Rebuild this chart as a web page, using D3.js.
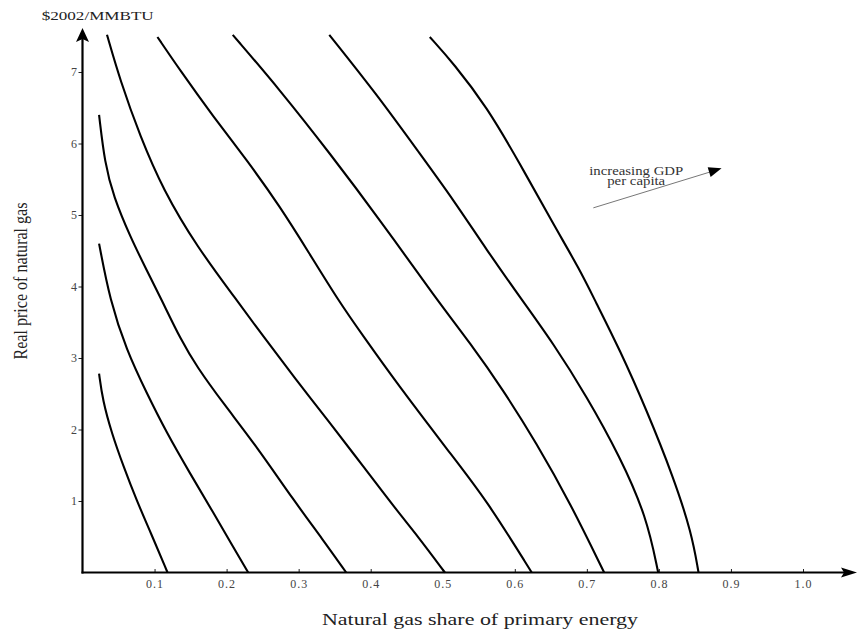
<!DOCTYPE html>
<html>
<head>
<meta charset="utf-8">
<script src="https://cdn.jsdelivr.net/npm/d3@7"></script>
<style>
  html, body { margin: 0; padding: 0; background: #fff; }
  svg { display: block; }
  text { font-family: "Liberation Serif", "Times New Roman", serif; }
</style>
</head>
<body>
<svg id="chart" width="857" height="629"></svg>
<script>
// ---- Data (share of primary energy, real price $2002/MMBTU) ----
const c1 = [[0.023,2.78],[0.028,2.41],[0.0405,1.95],[0.057,1.48],[0.075,1.01],[0.095,0.55],[0.118,0]];
const c2 = [[0.023,4.60],[0.038,3.81],[0.061,3.11],[0.089,2.51],[0.117,1.95],[0.149,1.39],[0.182,0.83],[0.209,0.36],[0.230,0]];
const c3 = [[0.023,6.40],[0.031,5.72],[0.043,5.26],[0.066,4.70],[0.089,4.23],[0.110,3.81],[0.1367,3.25],[0.1585,2.88],[0.195,2.37],[0.242,1.76],[0.293,1.01],[0.334,0.455],[0.366,0]];
const c4 = [[0.034,7.52],[0.052,6.89],[0.080,6.10],[0.112,5.35],[0.1585,4.56],[0.214,3.81],[0.251,3.30],[0.297,2.69],[0.3435,2.09],[0.390,1.48],[0.436,0.87],[0.466,0.50],[0.503,0]];
const c5 = [[0.104,7.49],[0.135,7.03],[0.1815,6.375],[0.228,5.77],[0.274,5.12],[0.3144,4.47],[0.3546,3.81],[0.390,3.30],[0.436,2.65],[0.510,1.67],[0.561,1.01],[0.6235,0]];
const c6 = [[0.2085,7.52],[0.274,6.75],[0.3435,5.86],[0.413,4.93],[0.492,3.81],[0.538,3.21],[0.584,2.55],[0.630,1.81],[0.677,0.97],[0.724,0]];
const c7 = [[0.3425,7.52],[0.4074,6.70],[0.468,5.86],[0.515,5.21],[0.561,4.51],[0.610,3.81],[0.653,3.21],[0.700,2.46],[0.746,1.62],[0.783,0.78],[0.799,0]];
const c8 = [[0.482,7.49],[0.515,7.12],[0.561,6.515],[0.607,5.72],[0.653,4.88],[0.6905,4.23],[0.711,3.81],[0.746,3.11],[0.783,2.27],[0.820,1.34],[0.8455,0.55],[0.855,0]];
const curves = [c1, c2, c3, c4, c5, c6, c7, c8];

const xTicks = [0.1, 0.2, 0.3, 0.4, 0.5, 0.6, 0.7, 0.8, 0.9, 1.0];
const yTicks = [1, 2, 3, 4, 5, 6, 7];

const xTitle = "Natural gas share of primary energy";
const yTitle = "Real price of natural gas";
const unitLabel = "$2002/MMBTU";
const noteLines = ["increasing GDP", "per capita"];
// annotation arrow in data coordinates: [share, price]
const noteArrow = [[0.709, 5.10], [0.887, 5.653]];
const noteTextPos = [0.7685, 5.56];

// ---- Scales ----
const svg = d3.select("#chart");
const x = d3.scaleLinear().domain([0, 1]).range([82.5, 803]);
const y = d3.scaleLinear().domain([0, 7]).range([572.5, 72]);
const x0 = x(0), y0 = y(0);

// ---- Axes ----
const xAxis = d3.axisBottom(x).tickValues(xTicks).tickSize(-3.5).tickPadding(7)
  .tickFormat(d3.format(".1f"));
const gx = svg.append("g").attr("transform", `translate(0,${y0})`).call(xAxis);
gx.select(".domain").remove();
gx.selectAll(".tick line").attr("stroke", "#222").attr("stroke-width", 1);
gx.selectAll(".tick text").attr("font-size", 12).attr("fill", "#444")
  .attr("letter-spacing", "1px").attr("font-family", "Liberation Serif, serif");

const yAxis = d3.axisLeft(y).tickValues(yTicks).tickSize(4).tickPadding(1.5)
  .tickFormat(d3.format("d"));
const gy = svg.append("g").attr("transform", `translate(${x0},0)`).call(yAxis);
gy.select(".domain").remove();
gy.selectAll(".tick line").attr("stroke", "#222").attr("stroke-width", 1);
gy.selectAll(".tick text").attr("font-size", 12).attr("fill", "#444")
  .attr("font-family", "Liberation Serif, serif");

// axis lines with arrowheads
const xEnd = 857, yEnd = 28;
svg.append("line").attr("x1", x0 - 1).attr("y1", y0).attr("x2", xEnd - 8).attr("y2", y0)
  .attr("stroke", "#000").attr("stroke-width", 2.2);
svg.append("path")
  .attr("d", `M${xEnd},${y0} L${xEnd - 16},${y0 - 5} L${xEnd - 13},${y0} L${xEnd - 16},${y0 + 5} Z`)
  .attr("fill", "#000");
svg.append("line").attr("x1", x0).attr("y1", y0 + 1).attr("x2", x0).attr("y2", yEnd + 8)
  .attr("stroke", "#000").attr("stroke-width", 2.2);
svg.append("path")
  .attr("d", `M${x0},${yEnd} L${x0 - 6.5},${yEnd + 14} L${x0},${yEnd + 11} L${x0 + 6.5},${yEnd + 14} Z`)
  .attr("fill", "#000");

// ---- Curves ----
const line = d3.line()
  .x(d => x(d[0]))
  .y(d => y(d[1]))
  .curve(d3.curveBasis);

svg.append("g").selectAll("path.curve")
  .data(curves)
  .join("path")
  .attr("class", "curve")
  .attr("d", line)
  .attr("fill", "none")
  .attr("stroke", "#000")
  .attr("stroke-width", 2.1)
  .attr("stroke-linecap", "butt");

// ---- Titles ----
svg.append("text")
  .attr("x", 41.7).attr("y", 19.5)
  .attr("font-size", 13).attr("fill", "#222")
  .attr("textLength", 112).attr("lengthAdjust", "spacingAndGlyphs")
  .text(unitLabel);

svg.append("text")
  .attr("transform", `translate(27,281) rotate(-90)`)
  .attr("text-anchor", "middle")
  .attr("font-size", 18).attr("fill", "#222")
  .attr("textLength", 157).attr("lengthAdjust", "spacingAndGlyphs")
  .text(yTitle);

svg.append("text")
  .attr("x", 322).attr("y", 625)
  .attr("font-size", 16).attr("fill", "#222")
  .attr("textLength", 316).attr("lengthAdjust", "spacingAndGlyphs")
  .text(xTitle);

// ---- Annotation ----
const ax1 = x(noteArrow[0][0]), ay1 = y(noteArrow[0][1]);
const ax2 = x(noteArrow[1][0]), ay2 = y(noteArrow[1][1]);
svg.append("line")
  .attr("x1", ax1).attr("y1", ay1).attr("x2", ax2 - 6).attr("y2", ay2 + 2)
  .attr("stroke", "#777").attr("stroke-width", 1);
const ang = Math.atan2(ay2 - ay1, ax2 - ax1);
const hl = 13, hw = 5;
const bx = ax2 - hl * Math.cos(ang), by = ay2 - hl * Math.sin(ang);
svg.append("path")
  .attr("d", `M${ax2},${ay2} L${bx - hw * Math.sin(ang)},${by + hw * Math.cos(ang)} L${bx + hw * Math.sin(ang)},${by - hw * Math.cos(ang)} Z`)
  .attr("fill", "#000");

svg.append("g").selectAll("text.note")
  .data(noteLines)
  .join("text")
  .attr("class", "note")
  .attr("x", x(noteTextPos[0]))
  .attr("y", (d, i) => y(noteTextPos[1]) + i * 10.5)
  .attr("text-anchor", "middle")
  .attr("font-size", 11.5).attr("fill", "#333")
  .attr("textLength", (d, i) => i === 0 ? 94 : 58)
  .attr("lengthAdjust", "spacingAndGlyphs")
  .text(d => d);
</script>
</body>
</html>
